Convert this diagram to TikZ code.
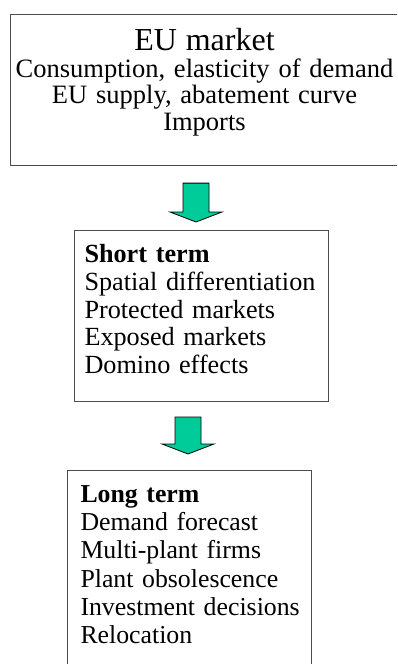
\documentclass[tikz,border=0pt]{standalone}
\usepackage{fontspec}
\setmainfont{Liberation Serif}
\usetikzlibrary{calc,positioning}
\hyphenpenalty=10000
\exhyphenpenalty=10000
\definecolor{arrowgreen}{RGB}{0,204,153}
\tikzstyle{panel}=[draw=black!70, line width=1pt, anchor=north west,
  inner ysep=0pt, font=\fontsize{26}{27.75}\selectfont]
\tikzstyle{blockarrow}=[draw=black, fill=arrowgreen, line width=0.8pt,
  line join=miter]
\newcommand{\topstrut}[1]{\rule{0pt}{#1}}
\newcommand{\bottomstrut}[1]{\rule[-#1]{0pt}{#1}}
\newcommand{\flowarrow}[2]{%
  % #1 top of the shaft, #2 tip of the head
  \path[blockarrow] let \p1=(#1), \p2=(#2) in
    (\x1-13pt,\y1) -- (\x1+13pt,\y1) -- (\x1+13pt,\y2+10pt)
    -- (\x1+26pt,\y2+10pt) -- (\x1,\y2) -- (\x1-26pt,\y2+10pt)
    -- (\x1-13pt,\y2+10pt) -- cycle;}

\begin{document}
\begin{tikzpicture}[x=1pt,y=-1pt]
  \useasboundingbox (0,0) rectangle (397,664);
  \clip (0,0) rectangle (397,664);

  % market block, its right side runs off the page
  \node (MARKET) [panel, draw=none, align=center, text width=384pt,
    inner xsep=2pt, font=\fontsize{26.5}{26.7}\selectfont] at (10,14)
    {\topstrut{36pt}{\fontsize{32}{32}\selectfont EU market}\\
     Consumption,~elasticity~of~demand\\
     EU supply, abatement curve\\
     Imports\bottomstrut{34pt}};
  \draw[draw=black!70, line width=1pt]
    ([xshift=10pt]MARKET.north east) -- (MARKET.north west)
    -- (MARKET.south west) -- ([xshift=10pt]MARKET.south east);

  % short term block
  \node (SHORTTERM) [panel, align=left, text width=234pt, inner xsep=10pt,
    font=\fontsize{26.2}{27.75}\selectfont] at (74,230)
    {\topstrut{32pt}\textbf{Short~term}\\
     Spatial~differentiation\\
     Protected~markets\\
     Exposed~markets\\
     Domino~effects\bottomstrut{28pt}};

  % long term block
  \node (LONGTERM) [panel, align=left, text width=218pt, inner xsep=13pt,
    font=\fontsize{25.8}{28.2}\selectfont] at (67,470)
    {\topstrut{32pt}\textbf{Long~term}\\
     Demand~forecast\\
     Multi-plant~firms\\
     Plant~obsolescence\\
     \mbox{Investment decisions}\\
     Relocation\bottomstrut{45pt}};

  %Draw arrows between blocks
  \coordinate (AXIS1) at (196,0);
  \coordinate (AXIS2) at (188,0);
  \flowarrow{$(MARKET.south -| AXIS1)+(0,18)$}{$(SHORTTERM.north -| AXIS1)+(0,-8)$}
  \flowarrow{$(SHORTTERM.south -| AXIS2)+(0,15)$}{$(LONGTERM.north -| AXIS2)+(0,-16)$}

\end{tikzpicture}
\end{document}
